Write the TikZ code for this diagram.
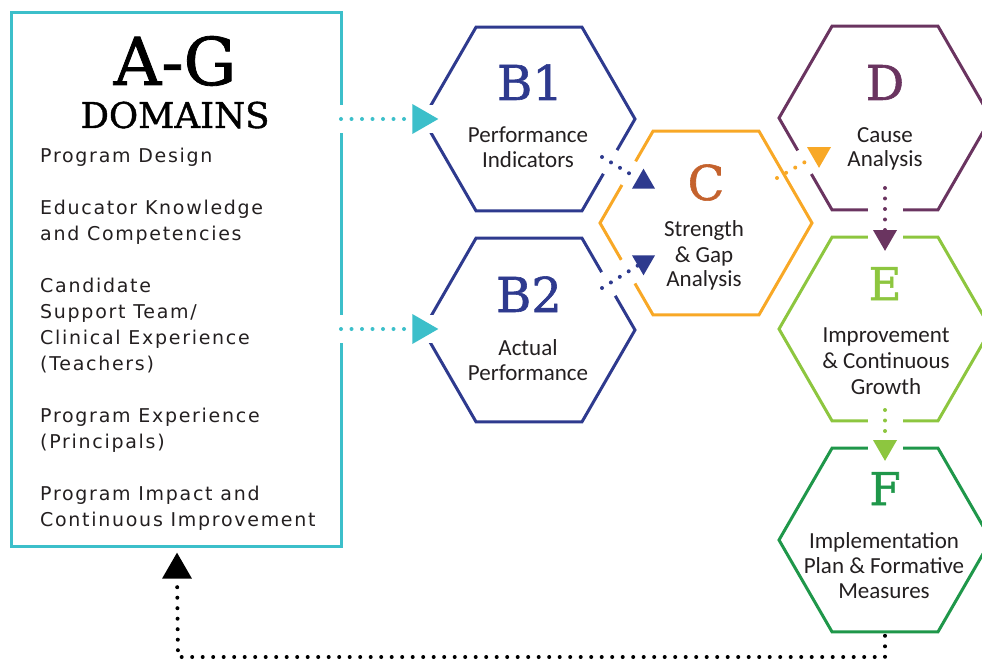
\documentclass[tikz,border=0pt]{standalone}
\usepackage{fontspec}
\setmainfont{Carlito}
\newfontfamily\slabfont[FakeBold=1.2]{DejaVu Serif}
\newfontfamily\listfont[LetterSpace=9]{DejaVu Sans}
\usetikzlibrary{shapes.geometric,calc}
\definecolor{teal1}{HTML}{3CBFCA}
\definecolor{navy1}{HTML}{2E3A8E}
\definecolor{orange1}{HTML}{F8A826}
\definecolor{rust1}{HTML}{C4622D}
\definecolor{plum1}{HTML}{6A3460}
\definecolor{lime1}{HTML}{8DC63F}
\definecolor{green1}{HTML}{1F974A}
\definecolor{ink1}{HTML}{231F20}
\newcommand\stacklines[2][25pt]{\vtop{\baselineskip=#1\relax\lineskiplimit=-100pt\halign{\hfil##\hfil\cr#2\crcr}}}
\newcommand\leftlines[2][26pt]{\vtop{\baselineskip=#1\relax\lineskiplimit=-100pt\halign{##\hfil\cr#2\crcr}}}
\begin{document}
\begin{tikzpicture}[x=1pt,y=-1pt,
  hexa/.style={regular polygon, regular polygon sides=6, minimum size=212pt, inner sep=0pt, outer sep=0pt, draw=#1, line width=3pt},
  tri/.style={regular polygon, regular polygon sides=3, inner sep=0pt, outer sep=0pt, fill=#1, draw=none},
  dots/.style={draw=#1, line width=4pt, line cap=round, dash pattern=on 0pt off 10.5pt},
  eraser/.style={draw=white, line width=#1},
  letter/.style={font=\slabfont\fontsize{48}{48}\selectfont, text=#1, anchor=base, inner sep=0pt},
  body/.style={font=\fontsize{23}{25}\selectfont, text=ink1, anchor=base, inner sep=0pt}]
\useasboundingbox (0,0) rectangle (982,660);
\clip (0,0) rectangle (982,660);
% hexagons
\node[hexa=navy1] (B1) at (529,119) {};
\node[hexa=navy1] (B2) at (529,330) {};
\node[hexa=orange1] (C) at (706,223) {};
\node[hexa=plum1] (D) at (885,118) {};
\node[hexa=lime1] (E) at (885,329) {};
\node[hexa=green1] (F) at (885,540) {};
% domains box
\node[draw=teal1, line width=3pt, minimum width=330pt, minimum height=533pt, inner sep=0pt, outer sep=0pt] (box) at (176,279.5) {};
% connector ends
\coordinate (s1) at (341,119);
\coordinate (s2) at (341,329);
\coordinate (s3) at (602,157);
\coordinate (s4) at (602,288);
\coordinate (s5) at (777,178);
\coordinate (s6) at (885,188);
\coordinate (s7) at (885,410);
\coordinate (k1) at (885,657);
\coordinate (k2) at (178,657);
\coordinate (t1c) at (421,119);
\coordinate (t2c) at (421,329);
\coordinate (t3c) at (643.5,182);
\coordinate (t4c) at (643.5,262);
\coordinate (t5c) at (819,154);
\coordinate (t6c) at (885,237);
\coordinate (t7c) at (885,447);
\coordinate (t8c) at (177,570);
% gaps cut in the outlines
\draw[eraser=28pt] ([xshift=-6pt]s1) -- ([xshift=20pt]t1c);
\draw[eraser=28pt] ([xshift=-6pt]s2) -- ([xshift=20pt]t2c);
\draw[eraser=27pt] ($(s3)!-4pt!(t3c)$) -- (t3c);
\draw[eraser=27pt] ($(s4)!-4pt!(t4c)$) -- (t4c);
\draw[eraser=27pt] ($(s5)!16pt!(t5c)$) -- (t5c);
\draw[eraser=35pt] ([yshift=-10pt]s6) -- ([yshift=-9pt]t6c);
\draw[eraser=35pt] (s7) -- ([yshift=-9pt]t7c);
% titles
\node[font=\slabfont\fontsize{66}{66}\selectfont, text=black, anchor=base, inner sep=0pt] (ag) at (175,85) {A-G};
\node[font=\slabfont\fontsize{35.5}{36}\selectfont, text=black, anchor=base, inner sep=0pt] (dom) at (175,128) {DOMAINS};
\node[font=\listfont\fontsize{19}{26}\selectfont, text=ink1, anchor=base west, inner sep=0pt] (list) at (40,163) {\leftlines{Program Design\cr{}\cr Educator Knowledge\cr and Competencies\cr{}\cr Candidate\cr Support Team/\cr Clinical Experience\cr (Teachers)\cr{}\cr Program Experience\cr (Principals)\cr{}\cr Program Impact and\cr Continuous Improvement}};
% letters
\node[letter=navy1] (lB1) at (530,100) {B1};
\node[letter=navy1] (lB2) at (529,312) {B2};
\node[letter=rust1] (lC) at (706,200) {C};
\node[letter=plum1] (lD) at (885,100) {D};
\node[letter=lime1, font=\slabfont\fontsize{45}{45}\selectfont] (lE) at (885,300) {E};
\node[letter=green1, font=\slabfont\fontsize{45}{45}\selectfont] (lF) at (885,505) {F};
% hexagon texts
\node[body] (tB1) at (528,143) {\stacklines{Performance\cr Indicators}};
\node[body] (tB2) at (528,355) {\stacklines{Actual\cr Performance}};
\node[body] (tC) at (704,237) {\stacklines{Strength\cr \& Gap\cr Analysis}};
\node[body] (tD) at (885,143) {\stacklines[24pt]{Cause\cr Analysis}};
\node[body] (tE) at (886,342) {\stacklines[26pt]{Improvement\cr \& Continuous\cr Growth}};
\node[body] (tF) at (884,548) {\stacklines{Implementation\cr Plan \& Formative\cr Measures}};
% arrowheads
\node[tri=teal1, minimum size=34.6pt, rotate=-90] (t1) at (t1c) {};
\node[tri=teal1, minimum size=34.6pt, rotate=-90] (t2) at (t2c) {};
\node[tri=navy1, minimum size=26.6pt] (t3) at (t3c) {};
\node[tri=navy1, minimum size=26.6pt, rotate=180] (t4) at (t4c) {};
\node[tri=orange1, minimum size=27.7pt, rotate=180] (t5) at (t5c) {};
\node[tri=plum1, minimum size=27.7pt, rotate=180] (t6) at (t6c) {};
\node[tri=lime1, minimum size=27.7pt, rotate=180] (t7) at (t7c) {};
\node[tri=black, minimum size=34.6pt] (t8) at (t8c) {};
% dotted connectors
\draw[dots=teal1] (s1) -- (t1);
\draw[dots=teal1] (s2) -- (t2);
\draw[dots=navy1] (s3) -- (t3);
\draw[dots=navy1] (s4) -- (t4);
\draw[dots=orange1] (s5) -- (t5);
\draw[dots=plum1] (s6) -- (t6);
\draw[dots=lime1] (s7) -- (t7);
\draw[dots=black] ([yshift=-4pt]F.south) -- (k1) -- (k2) -- (t8);
\end{tikzpicture}
\end{document}
